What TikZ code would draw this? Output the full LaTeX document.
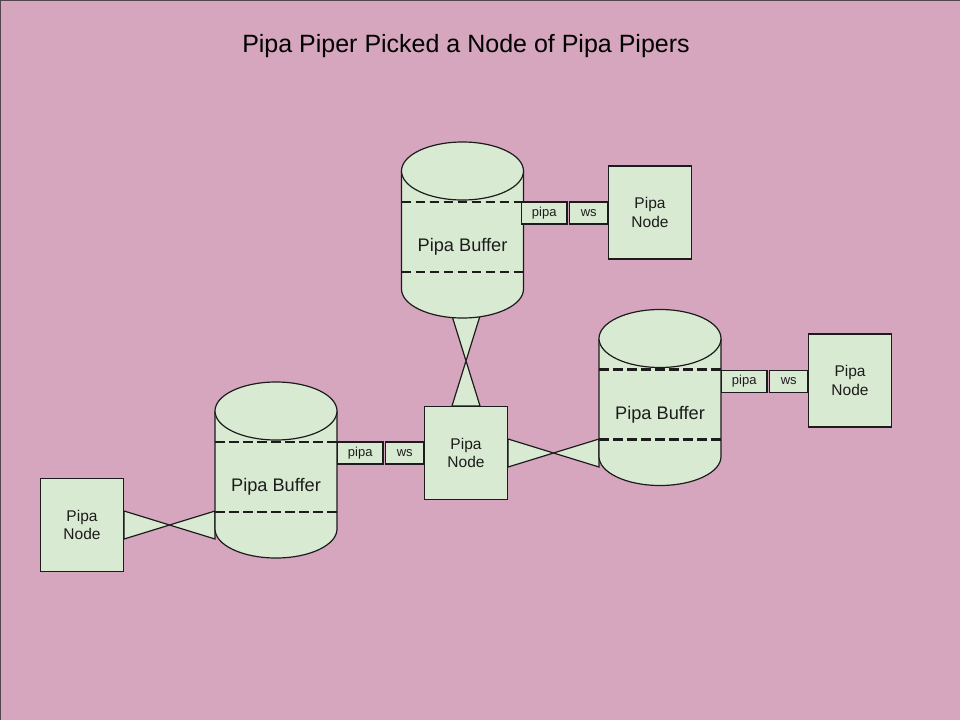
\documentclass[tikz,border=0pt]{standalone}
\usepackage{fontspec}
\setmainfont{Liberation Sans}
\usetikzlibrary{calc}
\definecolor{bg}{HTML}{D5A6BD}
\definecolor{gf}{HTML}{D9EAD3}
\definecolor{ln}{HTML}{1C1C1C}
\newcommand{\pipacyl}[4]{%
  \fill[gf] (#2-61,#3) -- (#2-61,#3+118) arc[start angle=180,end angle=0,x radius=61,y radius=29] -- (#2+61,#3) -- cycle;
  \draw[cylline] (#2-61,#3) -- (#2-61,#3+118) arc[start angle=180,end angle=0,x radius=61,y radius=29] -- (#2+61,#3);
  \draw[cylline,fill=gf] (#2,#3) ellipse[x radius=61,y radius=29];
  \draw[dashline] (#2-61,#3+31) -- (#2+61,#3+31);
  \draw[dashline] (#2-61,#3+101) -- (#2+61,#3+101);
  \node[minimum width=122pt,minimum height=176pt,inner sep=0pt] (#1) at (#2,#3+59) {};
  \node[bigtext] (#1t) at (#2,#3+76) {#4};
}
\begin{document}
\begin{tikzpicture}[x=1pt,y=-1pt,
  cylline/.style={draw=ln,line width=1.2pt},
  dashline/.style={draw=ln,line width=2.4pt,dash pattern=on 9.5pt off 4.5pt},
  bigtext/.style={font=\fontsize{18.2}{22}\selectfont,text=ln},
  pnode/.style={draw=ln,fill=gf,line width=1.2pt,inner sep=0pt,align=center,
    minimum width=83pt,minimum height=93pt,font=\fontsize{15.5}{18.5}\selectfont,text=ln},
  tag/.style={draw=ln,fill=gf,line width=1.2pt,inner sep=0pt,minimum height=22pt,
    font=\fontsize{13}{15}\selectfont,text=ln},
  bow/.style={draw=ln,fill=gf,line width=1.2pt,line join=miter}]
\fill[bg] (0,0) rectangle (960,720);
\useasboundingbox (0,0) rectangle (960,720);
\draw[ln!70!bg,line width=1.2pt] (0.6,720) -- (0.6,0.6) -- (960,0.6);

\node[font=\fontsize{25}{30}\selectfont,text=black,anchor=base] (title) at (466,52) {Pipa Piper Picked a Node of Pipa Pipers};

% Pipa nodes
\node[pnode] (tn) at (650,212.5) {Pipa\\Node};
\node[pnode] (rn) at (850,380.5) {Pipa\\Node};
\node[pnode] (mn) at (466,453) {Pipa\\Node};
\node[pnode] (ln) at (82,525) {Pipa\\Node};

% bowties (behind)
\draw[bow] ($(mn.north)+(-14,-90)$) -- ($(mn.north)+(14,0)$) -- ($(mn.north)+(-14,0)$) -- ($(mn.north)+(14,-90)$) -- cycle;
\draw[bow] ($(mn.east)+(0,-14)$) -- ($(599,453)+(0,14)$) -- ($(599,453)+(0,-14)$) -- ($(mn.east)+(0,14)$) -- cycle;
\draw[bow] ($(ln.east)+(0,-14)$) -- ($(215,525)+(0,14)$) -- ($(215,525)+(0,-14)$) -- ($(ln.east)+(0,14)$) -- cycle;

% cylinders
\pipacyl{c1}{462.5}{171}{Pipa Buffer}
\pipacyl{c2}{660}{338.5}{Pipa Buffer}
\pipacyl{c3}{276}{411}{Pipa Buffer}

% redraw node outlines over bowtie edges
\node[pnode] at (mn) {Pipa\\Node};
\node[pnode] at (ln) {Pipa\\Node};

% tags
\node[tag,minimum width=45.5pt] (tp) at (544.25,213) {pipa};
\node[tag,minimum width=38.5pt] (tw) at (588.75,213) {ws};
\node[tag,minimum width=45.5pt] (rp) at (744.25,381.5) {pipa};
\node[tag,minimum width=38.5pt] (rw) at (788.75,381.5) {ws};
\node[tag,minimum width=45.5pt] (mp) at (360.25,453) {pipa};
\node[tag,minimum width=38.5pt] (mw) at (404.75,453) {ws};
\end{tikzpicture}
\end{document}
